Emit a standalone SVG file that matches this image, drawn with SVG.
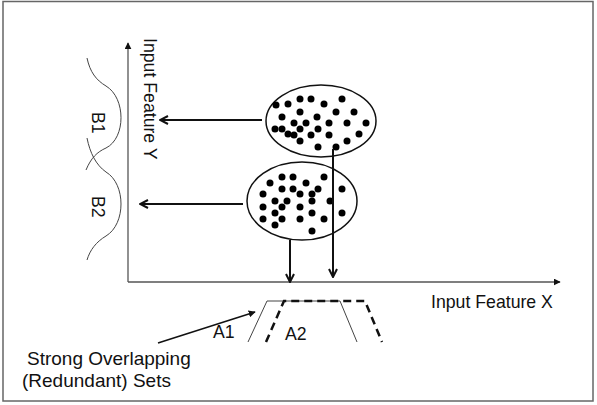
<svg xmlns="http://www.w3.org/2000/svg" width="597" height="405" viewBox="0 0 597 405">
<style>
text{font-family:"Liberation Sans",Arial,sans-serif;font-size:17.7px;fill:#111}
.note{font-size:19px}
.ax{stroke:#555;stroke-width:1.3;fill:none}
.arr{stroke:#111;stroke-width:2;fill:none}
.ell{stroke:#111;stroke-width:1.5;fill:none}
.dot{fill:#000}
.bell{stroke:#444;stroke-width:1;fill:none}
</style>
<defs>
<marker id="tri" viewBox="0 0 10 10" refX="9" refY="5" markerWidth="7" markerHeight="7" markerUnits="userSpaceOnUse" orient="auto"><path d="M0,0 L10,5 L0,10 z" fill="#111"/></marker>
<marker id="chev" viewBox="0 0 10 10" refX="9" refY="5" markerWidth="10" markerHeight="10" markerUnits="userSpaceOnUse" orient="auto"><path d="M1,1 L9,5 L1,9" fill="none" stroke="#111" stroke-width="2"/></marker>
</defs>
<rect x="3" y="1.5" width="590" height="399.5" fill="#fff" stroke="#666" stroke-width="1.5"/>
<g id="axes">
<line class="ax" x1="128" y1="282" x2="128" y2="43" marker-end="url(#tri)"/>
<line class="ax" x1="128" y1="282" x2="560" y2="282" marker-end="url(#tri)"/>
<text x="431" y="308">Input Feature X</text>
<text transform="translate(144,38) rotate(90)">Input Feature Y</text>
</g>
<g id="B1">
<path class="bell" d="M87,58 C90,72 96,80 106,86 C126,98 126,138 106,148 C97,152 91,158 86,170"/>
<text transform="translate(92,112) rotate(90)">B1</text>
</g>
<g id="B2">
<path class="bell" d="M87,138 C90,153 96,165 106,172 C126,184 126,224 106,236 C96,242 90,250 87,260"/>
<text transform="translate(92,196) rotate(90)">B2</text>
</g>
<g id="cluster1">
<ellipse class="ell" cx="321" cy="121" rx="55" ry="36"/>
<g class="dot">
<circle cx="276" cy="105" r="3.5"/><circle cx="288" cy="104" r="3.5"/><circle cx="300" cy="99" r="3.5"/><circle cx="311" cy="99" r="3.5"/><circle cx="324" cy="104" r="3.5"/><circle cx="342" cy="99" r="3.5"/><circle cx="300" cy="112" r="3.5"/><circle cx="336" cy="112" r="3.5"/><circle cx="354" cy="112" r="3.5"/><circle cx="282" cy="117" r="3.5"/><circle cx="317" cy="117" r="3.5"/><circle cx="294" cy="123" r="3.5"/><circle cx="306" cy="123" r="3.5"/><circle cx="329" cy="123" r="3.5"/><circle cx="347" cy="123" r="3.5"/><circle cx="366" cy="123" r="3.5"/><circle cx="275" cy="129" r="3.5"/><circle cx="282" cy="129" r="3.5"/><circle cx="300" cy="129" r="3.5"/><circle cx="318" cy="129" r="3.5"/><circle cx="288" cy="134" r="3.5"/><circle cx="294" cy="135" r="3.5"/><circle cx="311" cy="135" r="3.5"/><circle cx="329" cy="135" r="3.5"/><circle cx="359" cy="134" r="3.5"/><circle cx="300" cy="141" r="3.5"/><circle cx="347" cy="141" r="3.5"/><circle cx="318" cy="147" r="3.5"/><circle cx="336" cy="147" r="3.5"/>
</g>
</g>
<g id="cluster2">
<ellipse class="ell" cx="302" cy="201" rx="55" ry="39"/>
<g class="dot">
<circle cx="282" cy="177" r="3.5"/><circle cx="293" cy="177" r="3.5"/><circle cx="324" cy="177" r="3.5"/><circle cx="270" cy="183" r="3.5"/><circle cx="306" cy="183" r="3.5"/><circle cx="282" cy="189" r="3.5"/><circle cx="293" cy="189" r="3.5"/><circle cx="318" cy="189" r="3.5"/><circle cx="342" cy="189" r="3.5"/><circle cx="263" cy="194" r="3.5"/><circle cx="300" cy="194" r="3.5"/><circle cx="312" cy="194" r="3.5"/><circle cx="275" cy="201" r="3.5"/><circle cx="287" cy="201" r="3.5"/><circle cx="312" cy="201" r="3.5"/><circle cx="330" cy="201" r="3.5"/><circle cx="263" cy="207" r="3.5"/><circle cx="282" cy="207" r="3.5"/><circle cx="300" cy="207" r="3.5"/><circle cx="275" cy="213" r="3.5"/><circle cx="312" cy="213" r="3.5"/><circle cx="342" cy="213" r="3.5"/><circle cx="263" cy="219" r="3.5"/><circle cx="282" cy="219" r="3.5"/><circle cx="300" cy="219" r="3.5"/><circle cx="324" cy="219" r="3.5"/><circle cx="275" cy="225" r="3.5"/><circle cx="312" cy="231" r="3.5"/>
</g>
</g>
<g id="A1">
<path d="M248,342 L267,301 L340,301 L357,342" fill="none" stroke="#444" stroke-width="1"/>
<text x="213" y="338">A1</text>
</g>
<g id="A2">
<path d="M266,342 L284,301 L365,301 L382,342" fill="none" stroke="#111" stroke-width="2.5" stroke-dasharray="8,5"/>
<text x="285" y="340">A2</text>
</g>
<g id="note">
<text class="note" x="27" y="365">Strong Overlapping</text>
<text class="note" x="22" y="387">(Redundant) Sets</text>
</g>
<g id="connectors">
<line class="arr" x1="262" y1="120" x2="160" y2="120" marker-end="url(#chev)"/>
<line class="arr" x1="243" y1="204" x2="140" y2="204" marker-end="url(#chev)"/>
<line class="arr" x1="333" y1="149" x2="333" y2="277" marker-end="url(#chev)"/>
<line class="arr" x1="290" y1="240" x2="290" y2="282" marker-end="url(#chev)"/>
<line stroke="#111" stroke-width="1.5" x1="158" y1="343" x2="255" y2="312" marker-end="url(#tri)"/>
</g>
</svg>
